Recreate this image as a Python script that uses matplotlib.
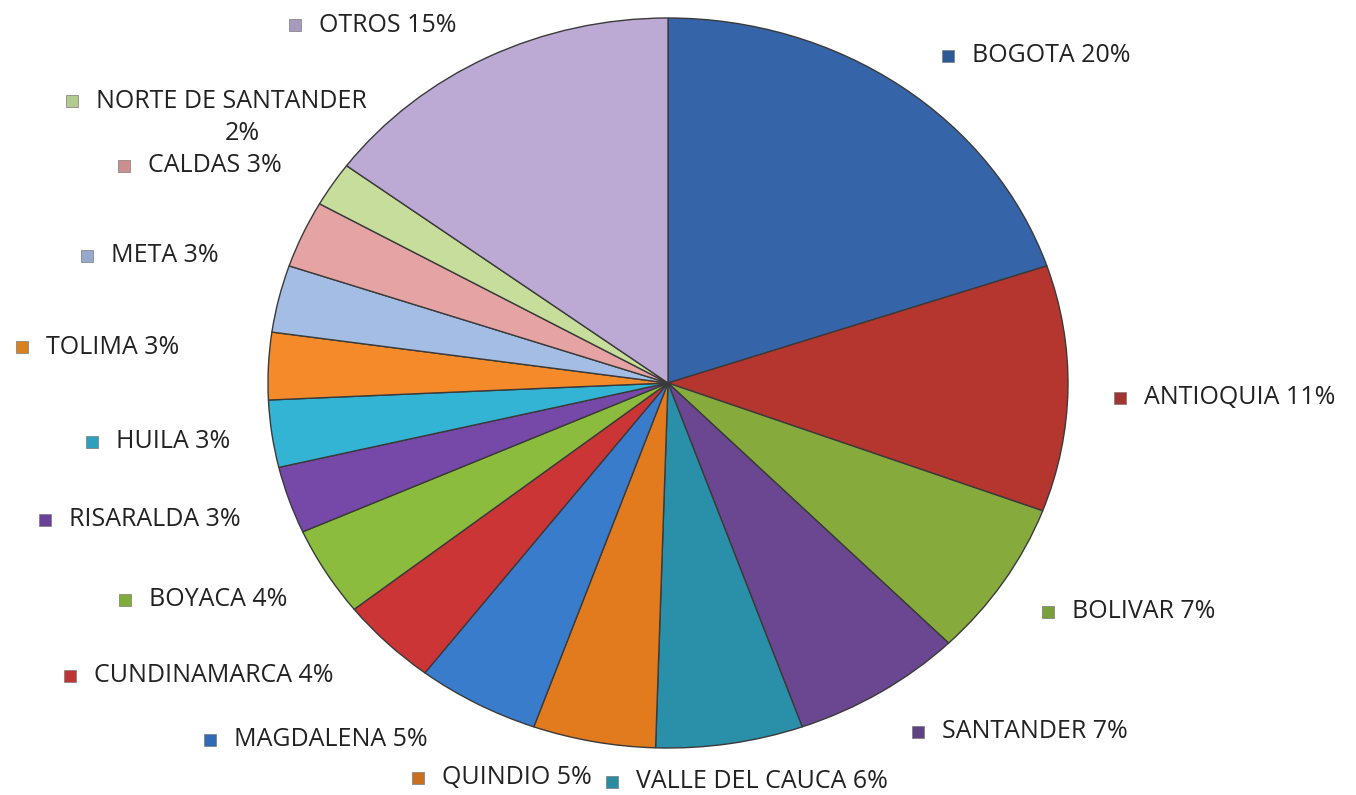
import matplotlib
matplotlib.use("Agg")
import matplotlib.pyplot as plt
from matplotlib.patches import Rectangle

categories = ["BOGOTA", "ANTIOQUIA", "BOLIVAR", "SANTANDER", "VALLE DEL CAUCA",
              "QUINDIO", "MAGDALENA", "CUNDINAMARCA", "BOYACA", "RISARALDA",
              "HUILA", "TOLIMA", "META", "CALDAS", "NORTE DE SANTANDER", "OTROS"]
values = [20, 11, 7, 7, 6, 5, 5, 4, 4, 3, 3, 3, 3, 3, 2, 15]
label_texts = ["BOGOTA 20%", "ANTIOQUIA 11%", "BOLIVAR 7%", "SANTANDER 7%",
               "VALLE DEL CAUCA 6%", "QUINDIO 5%", "MAGDALENA 5%", "CUNDINAMARCA 4%",
               "BOYACA 4%", "RISARALDA 3%", "HUILA 3%", "TOLIMA 3%", "META 3%",
               "CALDAS 3%", "NORTE DE SANTANDER\n2%", "OTROS 15%"]

colors = ["#3565a8", "#b5352f", "#86ab3c", "#6a4790", "#2a8fa8", "#e27a1e",
          "#3a7ccc", "#cc3535", "#8cbc3e", "#7648a8", "#33b4d4", "#f58a2a",
          "#a4bde4", "#e6a3a3", "#c7dd9c", "#bcaad4"]
marker_colors = ["#2c5a94", "#a33530", "#79a03a", "#5f4283", "#2b8ba0", "#c8701f",
                 "#2f6cb4", "#bd3535", "#7fac3a", "#6a4098", "#2ea0bb", "#d9811f",
                 "#97a9cc", "#cc8f8f", "#b3c98e", "#a79bbd"]

# label anchor positions in pixel space (marker x, center y)
label_pos = [(948, 56), (1120, 398), (1048, 612), (918, 732), (612, 782),
             (418, 778), (210, 740), (70, 676), (125, 600), (45, 520),
             (92, 442), (22, 347), (87, 256), (124, 166), (72, 101), (295, 25)]

W, H = 1356, 795
fig = plt.figure(figsize=(W / 100, H / 100), dpi=100)
fig.patch.set_facecolor("white")

cx, cy, rx, ry = 668, 383, 400, 365
ax = fig.add_axes([(cx - rx) / W, (H - cy - ry) / H, 2 * rx / W, 2 * ry / H])
ax.pie(values, colors=colors, startangle=90, counterclock=False, radius=1,
       wedgeprops=dict(edgecolor="#3a3a3a", linewidth=1.0))
ax.set_aspect("auto")
ax.set_xlim(-1.0, 1.0)
ax.set_ylim(-1.0, 1.0)
ax.axis("off")

ov = fig.add_axes([0, 0, 1, 1], facecolor="none")
ov.set_xlim(0, W)
ov.set_ylim(H, 0)
ov.axis("off")

FONT = "Open Sans"
FS = 18
TC = "#222222"
for (mx, my), txt, mc in zip(label_pos, label_texts, marker_colors):
    ov.add_patch(Rectangle((mx - 6, my - 6), 12, 12, facecolor=mc,
                           edgecolor="#7a7a7a", linewidth=0.5))
    if "\n" in txt:
        first, second = txt.split("\n")
        ov.text(mx + 24, my, first, fontsize=FS, family=FONT,
                color=TC, va="center", ha="left")
        ov.text(mx + 170, my + 32, second, fontsize=FS, family=FONT,
                color=TC, va="center", ha="center")
    else:
        ov.text(mx + 24, my, txt, fontsize=FS, family=FONT,
                color=TC, va="center", ha="left")

fig.savefig("out.png", dpi=100)
